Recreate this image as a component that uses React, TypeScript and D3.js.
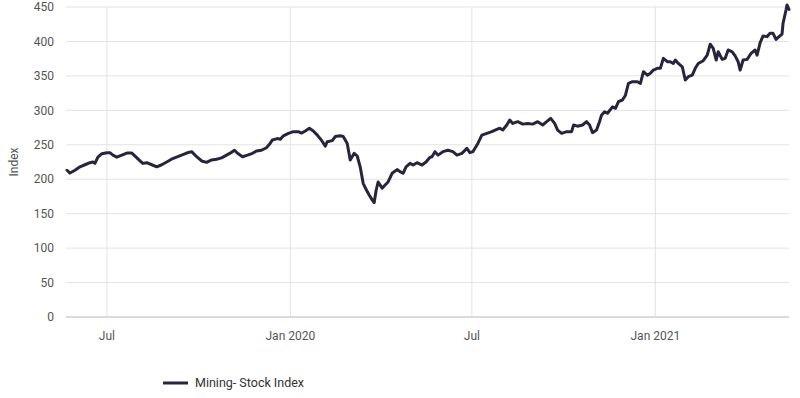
import { useEffect, useRef } from "react";
import * as d3 from "d3";

// Mining stock index
const dates: string[] = [
  "2019-05-22", "2019-05-25", "2019-05-30", "2019-06-04", "2019-06-09", "2019-06-14", "2019-06-17", "2019-06-19",
  "2019-06-22", "2019-06-26", "2019-07-01", "2019-07-04", "2019-07-07", "2019-07-11", "2019-07-16", "2019-07-21",
  "2019-07-26", "2019-07-29", "2019-08-03", "2019-08-06", "2019-08-10", "2019-08-15", "2019-08-20", "2019-08-25",
  "2019-08-30", "2019-09-05", "2019-09-12", "2019-09-19", "2019-09-24", "2019-09-29", "2019-10-04", "2019-10-09",
  "2019-10-14", "2019-10-19", "2019-10-24", "2019-10-29", "2019-11-03", "2019-11-06", "2019-11-09", "2019-11-14",
  "2019-11-19", "2019-11-24", "2019-11-28", "2019-12-03", "2019-12-08", "2019-12-11", "2019-12-14", "2019-12-19",
  "2019-12-22", "2019-12-25", "2019-12-30", "2020-01-04", "2020-01-09", "2020-01-12", "2020-01-16", "2020-01-20",
  "2020-01-24", "2020-01-28", "2020-02-01", "2020-02-05", "2020-02-07", "2020-02-12", "2020-02-15", "2020-02-20",
  "2020-02-23", "2020-02-27", "2020-03-01", "2020-03-05", "2020-03-08", "2020-03-11", "2020-03-14", "2020-03-17",
  "2020-03-20", "2020-03-23", "2020-03-25", "2020-03-27", "2020-03-29", "2020-04-02", "2020-04-05", "2020-04-08",
  "2020-04-12", "2020-04-17", "2020-04-20", "2020-04-23", "2020-04-26", "2020-04-30", "2020-05-03", "2020-05-07",
  "2020-05-12", "2020-05-16", "2020-05-20", "2020-05-22", "2020-05-25", "2020-05-28", "2020-06-02", "2020-06-07",
  "2020-06-12", "2020-06-16", "2020-06-21", "2020-06-26", "2020-06-29", "2020-07-02", "2020-07-07", "2020-07-11",
  "2020-07-16", "2020-07-21", "2020-07-26", "2020-07-29", "2020-08-01", "2020-08-05", "2020-08-08", "2020-08-11",
  "2020-08-16", "2020-08-21", "2020-08-26", "2020-08-31", "2020-09-05", "2020-09-10", "2020-09-14", "2020-09-18",
  "2020-09-22", "2020-09-25", "2020-09-29", "2020-10-04", "2020-10-09", "2020-10-11", "2020-10-15", "2020-10-20",
  "2020-10-24", "2020-10-27", "2020-10-30", "2020-11-03", "2020-11-06", "2020-11-08", "2020-11-11", "2020-11-14",
  "2020-11-19", "2020-11-22", "2020-11-25", "2020-11-29", "2020-12-02", "2020-12-05", "2020-12-09", "2020-12-14",
  "2020-12-17", "2020-12-20", "2020-12-24", "2020-12-27", "2020-12-30", "2021-01-03", "2021-01-06", "2021-01-09",
  "2021-01-13", "2021-01-16", "2021-01-19", "2021-01-21", "2021-01-24", "2021-01-28", "2021-01-31", "2021-02-03",
  "2021-02-07", "2021-02-10", "2021-02-13", "2021-02-18", "2021-02-22", "2021-02-25", "2021-02-28", "2021-03-03",
  "2021-03-05", "2021-03-09", "2021-03-12", "2021-03-15", "2021-03-19", "2021-03-22", "2021-03-25", "2021-03-27",
  "2021-03-30", "2021-04-03", "2021-04-07", "2021-04-11", "2021-04-13", "2021-04-16", "2021-04-19", "2021-04-23",
  "2021-04-26", "2021-04-29", "2021-05-02", "2021-05-05", "2021-05-08", "2021-05-09", "2021-05-12", "2021-05-13",
  "2021-05-15",
];

const values: number[] = [
  213, 209, 213, 218, 221, 224, 225, 223,
  232, 237, 238.5, 238.5, 235, 232, 235, 238,
  238, 234, 227, 223, 224, 221, 218, 221,
  225, 230, 234, 238, 240, 232.7, 226.5, 224.5,
  228, 229, 231, 235, 239, 242, 237.6, 232.7,
  235, 237.6, 241, 242, 245.7, 250.6, 257, 259,
  258, 263, 266.6, 269, 269, 267, 270, 274,
  270, 264, 257, 248, 254.5, 256, 262, 263,
  262, 252, 228, 237.6, 233.7, 218, 194, 185,
  177, 170, 166, 184, 196, 187, 191.6, 196,
  208.6, 214, 211, 208.6, 218, 223, 220.6, 224,
  220.6, 225, 231.8, 232.7, 240, 235, 240, 242,
  240, 235, 237.6, 244.8, 238.5, 240, 252, 264,
  266.6, 269, 272.4, 274, 271.4, 278.7, 286, 281,
  283.5, 280, 281, 280, 283.5, 278.7, 283.5, 288.4,
  281, 271.4, 266.6, 269, 269, 278.7, 277, 278.7,
  283.5, 278.7, 267.6, 271.4, 283.5, 293, 298, 295.7,
  305, 303, 312.5, 315, 322, 339, 341.5, 341.5,
  339, 356, 351, 353.8, 358.5, 361, 361, 375.5,
  370.6, 370.6, 368, 373, 368, 363, 344, 348.8,
  351, 361, 368, 372, 380, 396, 390, 373,
  385, 374, 375.5, 387.6, 385, 379, 370.6, 358.5,
  373, 374, 382.8, 387.6, 380, 398, 408, 407,
  411.8, 411.8, 403, 407, 410.8, 426, 445.6, 453,
  446.6,
];

const yTicks: number[] = [0, 50, 100, 150, 200, 250, 300, 350, 400, 450];
const xTickDates: string[] = ["2019-07-01", "2020-01-01", "2020-07-01", "2021-01-01"];
const xTickLabels: string[] = ["Jul", "Jan 2020", "Jul", "Jan 2021"];
const domainStart = "2019-05-21";
const domainEnd = "2021-05-15";
const seriesName = "Mining- Stock Index";
const yTitle = "Index";

const parse = d3.timeParse("%Y-%m-%d");

export default function App() {
  const svgRef = useRef<SVGSVGElement | null>(null);

  useEffect(() => {
    const width = 800;
    const height = 398;
    const margin = { top: 7, right: 11, bottom: 81, left: 66 };
    const font = "Roboto, 'Noto Sans', sans-serif";

    const svg = d3.select(svgRef.current);
    svg.selectAll("*").remove();
    svg.attr("width", width).attr("height", height).attr("viewBox", `0 0 ${width} ${height}`);

    const data = dates.map((d, i) => ({ date: parse(d) as Date, value: values[i] }));

    const x = d3
      .scaleTime()
      .domain([parse(domainStart) as Date, parse(domainEnd) as Date])
      .range([margin.left, width - margin.right]);

    const y = d3
      .scaleLinear()
      .domain([0, 450])
      .range([height - margin.bottom, margin.top]);

    // horizontal grid
    svg
      .append("g")
      .selectAll("line")
      .data(yTicks)
      .join("line")
      .attr("x1", margin.left)
      .attr("x2", width - margin.right)
      .attr("y1", (d) => y(d))
      .attr("y2", (d) => y(d))
      .attr("stroke", (d) => (d === 0 ? "#cfcfcf" : "#e3e3e3"))
      .attr("stroke-width", (d) => (d === 0 ? 1.5 : 1));

    // vertical grid
    svg
      .append("g")
      .selectAll("line")
      .data(xTickDates)
      .join("line")
      .attr("x1", (d) => x(parse(d) as Date))
      .attr("x2", (d) => x(parse(d) as Date))
      .attr("y1", margin.top)
      .attr("y2", height - margin.bottom)
      .attr("stroke", "#e3e3e3")
      .attr("stroke-width", 1);

    // y labels
    svg
      .append("g")
      .selectAll("text")
      .data(yTicks)
      .join("text")
      .attr("x", 54)
      .attr("y", (d) => y(d))
      .attr("dy", "0.35em")
      .attr("text-anchor", "end")
      .attr("font-family", font)
      .attr("font-size", 12)
      .attr("fill", "#555")
      .text((d) => d);

    // x labels
    svg
      .append("g")
      .selectAll("text")
      .data(xTickDates)
      .join("text")
      .attr("x", (d) => x(parse(d) as Date))
      .attr("y", 340)
      .attr("text-anchor", "middle")
      .attr("font-family", font)
      .attr("font-size", 12)
      .attr("fill", "#555")
      .text((_d, i) => xTickLabels[i]);

    svg
      .append("text")
      .attr("transform", `translate(18,${(margin.top + height - margin.bottom) / 2}) rotate(-90)`)
      .attr("text-anchor", "middle")
      .attr("font-family", font)
      .attr("font-size", 12)
      .attr("fill", "#555")
      .text(yTitle);

    const line = d3
      .line<{ date: Date; value: number }>()
      .x((d) => x(d.date))
      .y((d) => y(d.value));

    svg
      .append("path")
      .datum(data)
      .attr("fill", "none")
      .attr("stroke", "#28243c")
      .attr("stroke-width", 3)
      .attr("stroke-linejoin", "round")
      .attr("stroke-linecap", "round")
      .attr("d", line);

    // legend
    const legend = svg.append("g").attr("transform", "translate(163,383)");
    legend
      .append("line")
      .attr("x1", 0)
      .attr("x2", 25)
      .attr("stroke", "#28243c")
      .attr("stroke-width", 3);
    legend
      .append("text")
      .attr("x", 32)
      .attr("dy", "0.35em")
      .attr("font-family", font)
      .attr("font-size", 12.5)
      .attr("fill", "#333")
      .text(seriesName);
  }, []);

  return <svg ref={svgRef} style={{ position: "absolute", left: 0, top: 0 }} />;
}
